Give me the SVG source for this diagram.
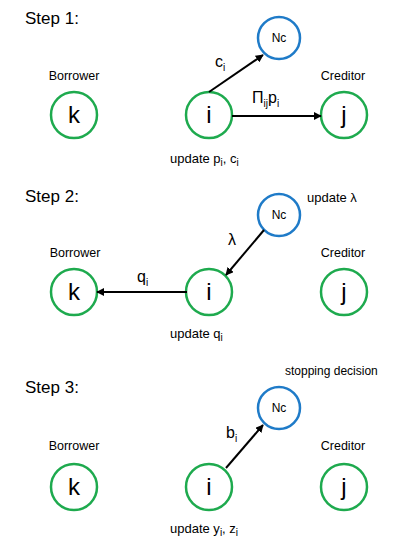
<svg xmlns="http://www.w3.org/2000/svg" width="405" height="541" viewBox="0 0 405 541">
<defs>
<marker id="ah" viewBox="0 0 10 10" refX="9" refY="5" markerWidth="4" markerHeight="4" orient="auto" markerUnits="strokeWidth">
<path d="M0,0 L10,5 L0,10 z" fill="#000"/>
</marker>
<style>
text{font-family:"Liberation Sans",Arial,sans-serif;fill:#000}
.step{font-size:17px}
.lab{font-size:12.5px;text-anchor:middle}
.upd{font-size:13px}
.g{fill:#fff;stroke:#1EAA4E;stroke-width:2.5}
.b{fill:#fff;stroke:#1F7BC8;stroke-width:2.5}
.nl{font-size:24px;text-anchor:middle}
.nc{font-size:12px;text-anchor:middle}
.el{font-size:16px}
.sub{font-size:10px}
.c{stroke:#000;stroke-width:2;fill:none;marker-end:url(#ah)}
</style>
</defs>
<rect width="405" height="541" fill="#fff"/>

<text class="step" x="25" y="24">Step 1:</text>
<text class="lab" x="74" y="80">Borrower</text>
<text class="lab" x="343" y="80">Creditor</text>
<g id="s1k"><circle class="g" cx="74" cy="115" r="23"/><text class="nl" x="74" y="123">k</text></g>
<g id="s1i"><circle class="g" cx="209" cy="115" r="23"/><text class="nl" x="209" y="123">i</text></g>
<g id="s1j"><circle class="g" cx="344" cy="115" r="23"/><text class="nl" x="344" y="123">j</text></g>
<g id="s1nc"><circle class="b" cx="279" cy="38" r="21"/><text class="nc" x="279" y="42">Nc</text></g>
<text class="upd" x="170" y="163">update p<tspan class="sub" dy="3">i</tspan><tspan dy="-3">, c</tspan><tspan class="sub" dy="3">i</tspan></text>

<text class="step" x="25" y="202">Step 2:</text>
<text class="lab" x="75" y="257">Borrower</text>
<text class="lab" x="343" y="257">Creditor</text>
<g id="s2k"><circle class="g" cx="74" cy="292" r="23"/><text class="nl" x="74" y="300">k</text></g>
<g id="s2i"><circle class="g" cx="209" cy="292" r="23"/><text class="nl" x="209" y="300">i</text></g>
<g id="s2j"><circle class="g" cx="344" cy="292" r="23"/><text class="nl" x="344" y="300">j</text></g>
<g id="s2nc"><circle class="b" cx="279" cy="215" r="21"/><text class="nc" x="279" y="219">Nc</text></g>
<text class="upd" x="307" y="202">update λ</text>
<text class="upd" x="170" y="338">update q<tspan class="sub" dy="3">i</tspan></text>

<text class="step" x="25" y="393">Step 3:</text>
<text class="upd" x="285" y="375" style="font-size:12px">stopping decision</text>
<text class="lab" x="74" y="450">Borrower</text>
<text class="lab" x="343" y="450">Creditor</text>
<g id="s3k"><circle class="g" cx="74" cy="487" r="23"/><text class="nl" x="74" y="495">k</text></g>
<g id="s3i"><circle class="g" cx="209" cy="487" r="23"/><text class="nl" x="209" y="495">i</text></g>
<g id="s3j"><circle class="g" cx="344" cy="487" r="23"/><text class="nl" x="344" y="495">j</text></g>
<g id="s3nc"><circle class="b" cx="279" cy="408" r="21"/><text class="nc" x="279" y="412">Nc</text></g>
<text class="upd" x="170" y="533">update y<tspan class="sub" dy="3">i</tspan><tspan dy="-3">, z</tspan><tspan class="sub" dy="3">i</tspan></text>

<g id="connectors">
<line class="c" x1="209" y1="92" x2="263" y2="55"/>
<line class="c" x1="232" y1="116" x2="321" y2="116"/>
<line class="c" x1="264" y1="230" x2="226" y2="275"/>
<line class="c" x1="187" y1="292" x2="97" y2="292"/>
<line class="c" x1="226" y1="468" x2="263" y2="425"/>
<text class="el" x="215" y="67">c<tspan class="sub" dy="4">i</tspan></text>
<text class="el" x="252" y="103">Π<tspan class="sub" dy="4">ij</tspan><tspan dy="-4">p</tspan><tspan class="sub" dy="4">i</tspan></text>
<text class="el" x="228" y="245">λ</text>
<text class="el" x="137" y="282">q<tspan class="sub" dy="4">i</tspan></text>
<text class="el" x="226" y="438">b<tspan class="sub" dy="4">i</tspan></text>
</g>
</svg>
